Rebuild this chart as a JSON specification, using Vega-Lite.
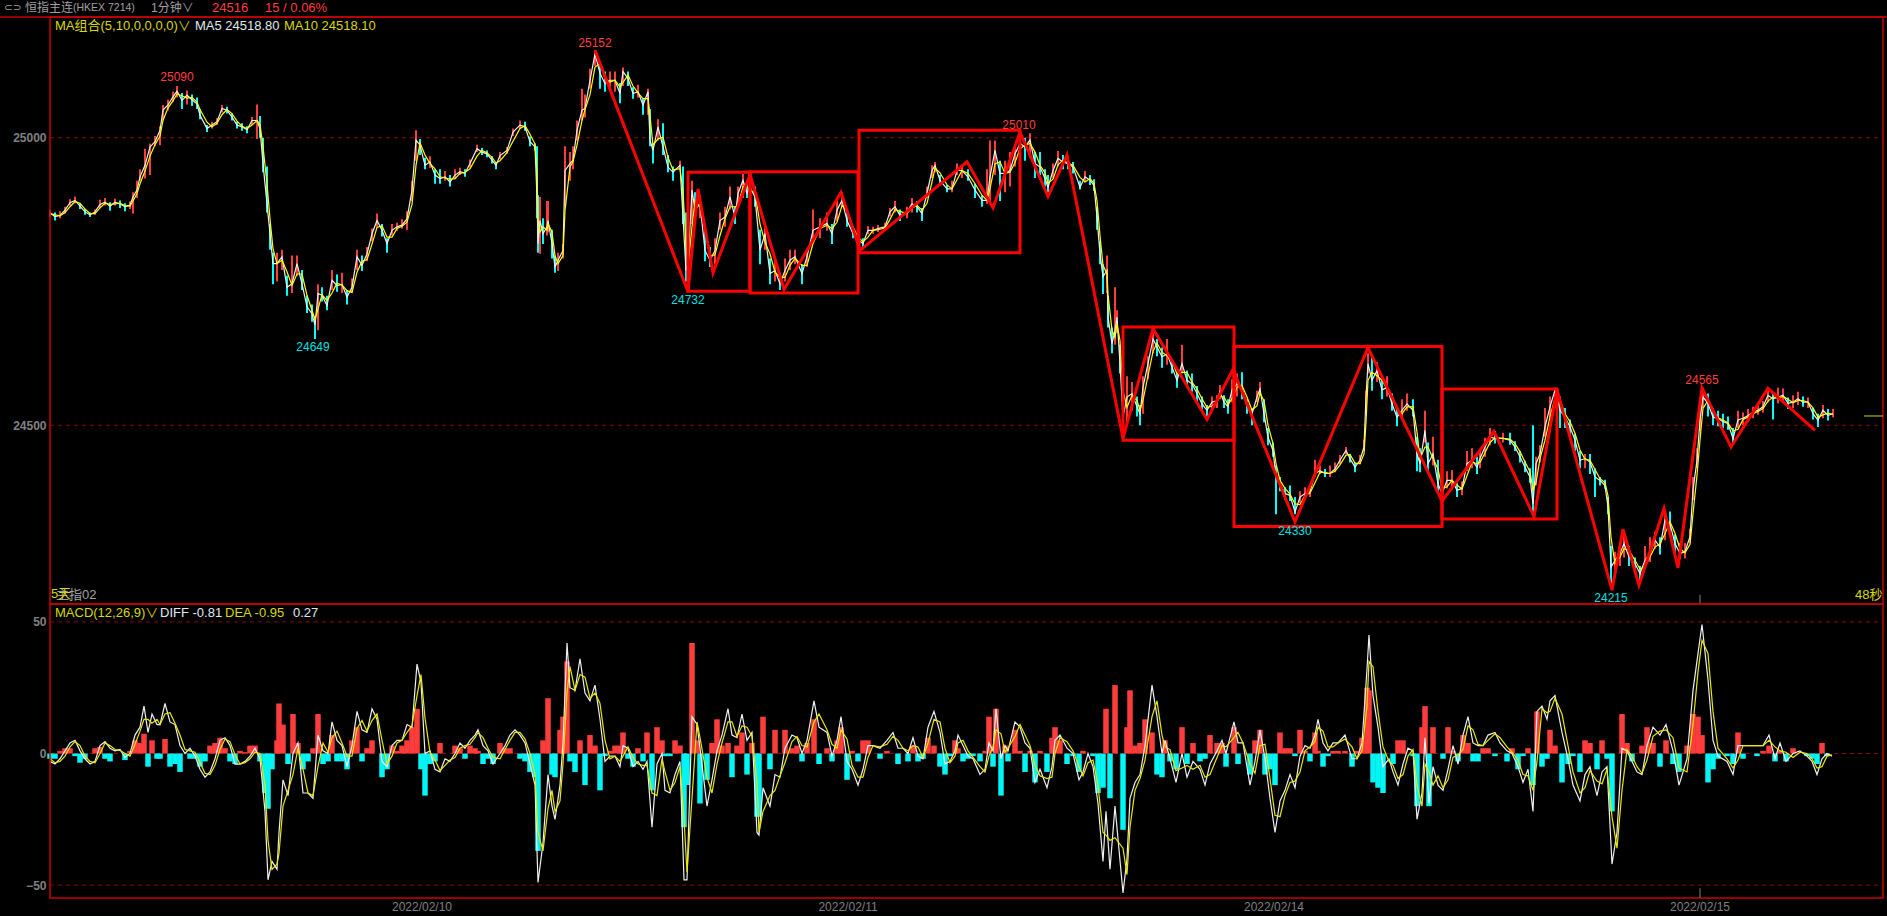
{"$schema":"https://vega.github.io/schema/vega-lite/v6.json","width":1887,"height":916,"padding":0,"autosize":{"type":"none"},"background":"#000000","config":{"view":{"stroke":null},"text":{"font":"Liberation Sans, Noto Sans CJK SC"}},
"datasets":{
"price":[
{"t":0,"low":24862,"high":24875,"ma5":24869,"ma10":24868},{"t":5,"low":24856,"high":24870,"ma5":24863,"ma10":24866},{"t":10,"low":24860,"high":24872,"ma5":24865,"ma10":24864},{"t":15,"low":24868,"high":24880,"ma5":24874,"ma10":24870},{"t":20,"low":24882,"high":24893,"ma5":24887,"ma10":24880},{"t":25,"low":24886,"high":24898,"ma5":24891,"ma10":24889},{"t":30,"low":24876,"high":24886,"ma5":24881,"ma10":24886},{"t":35,"low":24866,"high":24876,"ma5":24871,"ma10":24876},{"t":40,"low":24862,"high":24870,"ma5":24866,"ma10":24868},{"t":45,"low":24866,"high":24875,"ma5":24871,"ma10":24868},{"t":50,"low":24878,"high":24892,"ma5":24884,"ma10":24878},{"t":55,"low":24882,"high":24895,"ma5":24888,"ma10":24886},{"t":60,"low":24873,"high":24888,"ma5":24881,"ma10":24884},{"t":65,"low":24882,"high":24894,"ma5":24888,"ma10":24885},{"t":70,"low":24878,"high":24891,"ma5":24885,"ma10":24886},{"t":75,"low":24872,"high":24886,"ma5":24880,"ma10":24882},{"t":80,"low":24876,"high":24889,"ma5":24883,"ma10":24881},{"t":83,"low":24868,"high":24905,"ma5":24897,"ma10":24890},{"t":87,"low":24895,"high":24925,"ma5":24909,"ma10":24903},{"t":90,"low":24925,"high":24945,"ma5":24932,"ma10":24920},{"t":95,"low":24929,"high":24981,"ma5":24952,"ma10":24942},{"t":100,"low":24935,"high":24990,"ma5":24984,"ma10":24968},{"t":105,"low":24985,"high":25003,"ma5":24993,"ma10":24988},{"t":110,"low":24987,"high":25020,"ma5":25013,"ma10":25003},{"t":113,"low":25030,"high":25057,"ma5":25048,"ma10":25030},{"t":118,"low":25048,"high":25066,"ma5":25057,"ma10":25052},{"t":123,"low":25062,"high":25080,"ma5":25071,"ma10":25064},{"t":127,"low":25070,"high":25090,"ma5":25081,"ma10":25076},{"t":132,"low":25050,"high":25078,"ma5":25065,"ma10":25073},{"t":137,"low":25058,"high":25082,"ma5":25074,"ma10":25069},{"t":142,"low":25055,"high":25075,"ma5":25066,"ma10":25070},{"t":147,"low":25050,"high":25070,"ma5":25059,"ma10":25062},{"t":150,"low":25032,"high":25050,"ma5":25039,"ma10":25049},{"t":157,"low":25010,"high":25022,"ma5":25016,"ma10":25027},{"t":162,"low":25016,"high":25028,"ma5":25022,"ma10":25019},{"t":167,"low":25022,"high":25034,"ma5":25028,"ma10":25025},{"t":172,"low":25044,"high":25057,"ma5":25051,"ma10":25040},{"t":177,"low":25042,"high":25054,"ma5":25048,"ma10":25049},{"t":182,"low":25030,"high":25042,"ma5":25036,"ma10":25042},{"t":187,"low":25016,"high":25028,"ma5":25022,"ma10":25029},{"t":192,"low":25012,"high":25025,"ma5":25019,"ma10":25020},{"t":197,"low":25008,"high":25020,"ma5":25014,"ma10":25016},{"t":202,"low":25022,"high":25036,"ma5":25030,"ma10":25022},{"t":207,"low":24998,"high":25058,"ma5":25030,"ma10":25030},{"t":210,"low":25000,"high":25038,"ma5":25016,"ma10":25023},{"t":213,"low":24940,"high":25000,"ma5":24955,"ma10":24985},{"t":217,"low":24870,"high":24950,"ma5":24885,"ma10":24920},{"t":220,"low":24805,"high":24850,"ma5":24833,"ma10":24859},{"t":223,"low":24745,"high":24800,"ma5":24781,"ma10":24807},{"t":227,"low":24750,"high":24800,"ma5":24781,"ma10":24781},{"t":232,"low":24770,"high":24805,"ma5":24793,"ma10":24787},{"t":237,"low":24725,"high":24760,"ma5":24740,"ma10":24767},{"t":242,"low":24730,"high":24795,"ma5":24746,"ma10":24743},{"t":247,"low":24760,"high":24795,"ma5":24781,"ma10":24763},{"t":252,"low":24735,"high":24770,"ma5":24746,"ma10":24763},{"t":257,"low":24695,"high":24725,"ma5":24706,"ma10":24726},{"t":262,"low":24680,"high":24710,"ma5":24694,"ma10":24700},{"t":265,"low":24650,"high":24690,"ma5":24674,"ma10":24684},{"t":268,"low":24665,"high":24745,"ma5":24729,"ma10":24702},{"t":272,"low":24715,"high":24740,"ma5":24726,"ma10":24727},{"t":277,"low":24700,"high":24725,"ma5":24708,"ma10":24717},{"t":282,"low":24735,"high":24770,"ma5":24752,"ma10":24730},{"t":287,"low":24732,"high":24762,"ma5":24743,"ma10":24747},{"t":292,"low":24730,"high":24765,"ma5":24745,"ma10":24744},{"t":297,"low":24710,"high":24735,"ma5":24723,"ma10":24734},{"t":302,"low":24730,"high":24755,"ma5":24740,"ma10":24731},{"t":307,"low":24770,"high":24805,"ma5":24793,"ma10":24766},{"t":312,"low":24768,"high":24795,"ma5":24778,"ma10":24785},{"t":317,"low":24785,"high":24810,"ma5":24798,"ma10":24788},{"t":322,"low":24820,"high":24842,"ma5":24833,"ma10":24815},{"t":327,"low":24845,"high":24868,"ma5":24856,"ma10":24844},{"t":332,"low":24828,"high":24850,"ma5":24839,"ma10":24847},{"t":337,"low":24800,"high":24825,"ma5":24816,"ma10":24827},{"t":342,"low":24830,"high":24850,"ma5":24839,"ma10":24827},{"t":347,"low":24838,"high":24852,"ma5":24845,"ma10":24842},{"t":352,"low":24842,"high":24858,"ma5":24848,"ma10":24846},{"t":357,"low":24840,"high":24872,"ma5":24859,"ma10":24853},{"t":362,"low":24890,"high":24925,"ma5":24909,"ma10":24884},{"t":366,"low":24960,"high":25013,"ma5":24996,"ma10":24952},{"t":370,"low":24970,"high":24998,"ma5":24987,"ma10":24991},{"t":375,"low":24945,"high":24965,"ma5":24952,"ma10":24970},{"t":380,"low":24948,"high":24968,"ma5":24958,"ma10":24955},{"t":385,"low":24920,"high":24945,"ma5":24935,"ma10":24946},{"t":390,"low":24920,"high":24945,"ma5":24929,"ma10":24932},{"t":395,"low":24925,"high":24942,"ma5":24932,"ma10":24930},{"t":400,"low":24915,"high":24935,"ma5":24923,"ma10":24928},{"t":405,"low":24928,"high":24945,"ma5":24935,"ma10":24929},{"t":410,"low":24935,"high":24948,"ma5":24941,"ma10":24938},{"t":415,"low":24932,"high":24945,"ma5":24938,"ma10":24940},{"t":420,"low":24948,"high":24962,"ma5":24955,"ma10":24946},{"t":427,"low":24975,"high":24988,"ma5":24981,"ma10":24968},{"t":432,"low":24970,"high":24982,"ma5":24975,"ma10":24978},{"t":437,"low":24966,"high":24978,"ma5":24972,"ma10":24974},{"t":442,"low":24955,"high":24968,"ma5":24961,"ma10":24966},{"t":446,"low":24945,"high":24958,"ma5":24952,"ma10":24956},{"t":450,"low":24963,"high":24975,"ma5":24969,"ma10":24960},{"t":457,"low":24972,"high":24984,"ma5":24978,"ma10":24974},{"t":463,"low":25003,"high":25016,"ma5":25010,"ma10":24994},{"t":470,"low":25015,"high":25030,"ma5":25022,"ma10":25016},{"t":475,"low":25012,"high":25028,"ma5":25019,"ma10":25021},
{"t":480,"low":24985,"high":25002,"ma5":24993,"ma10":25006},{"t":485,"low":24978,"high":24990,"ma5":24984,"ma10":24989},{"t":487,"low":24860,"high":24985,"ma5":24897,"ma10":24940},{"t":488,"low":24800,"high":24900,"ma5":24816,"ma10":24856},{"t":490,"low":24798,"high":24897,"ma5":24856,"ma10":24836},{"t":493,"low":24815,"high":24860,"ma5":24833,"ma10":24845},{"t":497,"low":24830,"high":24890,"ma5":24845,"ma10":24839},{"t":498,"low":24835,"high":24890,"ma5":24856,"ma10":24850},{"t":502,"low":24790,"high":24840,"ma5":24816,"ma10":24836},{"t":505,"low":24765,"high":24795,"ma5":24775,"ma10":24795},{"t":508,"low":24768,"high":24800,"ma5":24787,"ma10":24781},{"t":513,"low":24790,"high":24815,"ma5":24804,"ma10":24795},{"t":515,"low":24880,"high":24985,"ma5":24943,"ma10":24873},{"t":520,"low":24925,"high":24975,"ma5":24955,"ma10":24949},{"t":523,"low":24945,"high":24985,"ma5":24961,"ma10":24958},{"t":527,"low":24995,"high":25030,"ma5":25013,"ma10":24987},{"t":532,"low":25030,"high":25085,"ma5":25048,"ma10":25030},{"t":535,"low":25035,"high":25075,"ma5":25051,"ma10":25049},{"t":540,"low":25085,"high":25120,"ma5":25100,"ma10":25075},{"t":545,"low":25125,"high":25152,"ma5":25146,"ma10":25123},{"t":550,"low":25085,"high":25130,"ma5":25112,"ma10":25129},{"t":555,"low":25080,"high":25115,"ma5":25094,"ma10":25103},{"t":560,"low":25085,"high":25115,"ma5":25100,"ma10":25097},{"t":565,"low":25080,"high":25115,"ma5":25100,"ma10":25100},{"t":570,"low":25060,"high":25095,"ma5":25077,"ma10":25088},{"t":573,"low":25090,"high":25122,"ma5":25115,"ma10":25096},{"t":578,"low":25090,"high":25115,"ma5":25103,"ma10":25109},{"t":583,"low":25068,"high":25088,"ma5":25077,"ma10":25090},{"t":588,"low":25070,"high":25092,"ma5":25080,"ma10":25078},{"t":593,"low":25040,"high":25068,"ma5":25057,"ma10":25068},{"t":598,"low":25040,"high":25085,"ma5":25080,"ma10":25068},{"t":600,"low":24985,"high":25050,"ma5":24996,"ma10":25038},{"t":603,"low":24955,"high":24990,"ma5":24978,"ma10":24987},{"t":608,"low":24995,"high":25032,"ma5":25019,"ma10":24998},{"t":613,"low":24970,"high":25025,"ma5":24984,"ma10":25001},{"t":618,"low":24940,"high":24970,"ma5":24949,"ma10":24966},{"t":623,"low":24925,"high":24950,"ma5":24940,"ma10":24944},{"t":630,"low":24945,"high":24960,"ma5":24952,"ma10":24946},{"t":633,"low":24850,"high":24950,"ma5":24862,"ma10":24907},{"t":636,"low":24750,"high":24870,"ma5":24769,"ma10":24815},{"t":638,"low":24735,"high":24810,"ma5":24781,"ma10":24775},{"t":642,"low":24850,"high":24925,"ma5":24909,"ma10":24845},{"t":645,"low":24860,"high":24905,"ma5":24874,"ma10":24891},{"t":650,"low":24860,"high":24900,"ma5":24885,"ma10":24880},{"t":655,"low":24785,"high":24840,"ma5":24804,"ma10":24844},{"t":660,"low":24775,"high":24810,"ma5":24787,"ma10":24795},{"t":665,"low":24780,"high":24825,"ma5":24804,"ma10":24796},{"t":670,"low":24840,"high":24870,"ma5":24856,"ma10":24830},{"t":675,"low":24845,"high":24880,"ma5":24862,"ma10":24859},{"t":680,"low":24875,"high":24915,"ma5":24897,"ma10":24880},{"t":685,"low":24850,"high":24880,"ma5":24862,"ma10":24880},{"t":688,"low":24885,"high":24915,"ma5":24903,"ma10":24882},{"t":693,"low":24895,"high":24937,"ma5":24926,"ma10":24915},{"t":697,"low":24895,"high":24925,"ma5":24903,"ma10":24915},{"t":700,"low":24895,"high":24935,"ma5":24914,"ma10":24908},{"t":705,"low":24880,"high":24915,"ma5":24897,"ma10":24905},{"t":710,"low":24780,"high":24840,"ma5":24804,"ma10":24850},{"t":715,"low":24805,"high":24850,"ma5":24833,"ma10":24818},{"t":720,"low":24745,"high":24790,"ma5":24764,"ma10":24798},{"t":725,"low":24750,"high":24790,"ma5":24769,"ma10":24766},{"t":730,"low":24735,"high":24765,"ma5":24746,"ma10":24757},{"t":735,"low":24750,"high":24790,"ma5":24769,"ma10":24757},{"t":740,"low":24770,"high":24805,"ma5":24787,"ma10":24778},{"t":745,"low":24780,"high":24805,"ma5":24793,"ma10":24790},{"t":752,"low":24745,"high":24780,"ma5":24764,"ma10":24778},{"t":757,"low":24775,"high":24805,"ma5":24793,"ma10":24778},{"t":763,"low":24825,"high":24875,"ma5":24839,"ma10":24816},{"t":770,"low":24825,"high":24860,"ma5":24845,"ma10":24842},{"t":777,"low":24838,"high":24870,"ma5":24851,"ma10":24848},{"t":782,"low":24815,"high":24850,"ma5":24833,"ma10":24842},{"t":787,"low":24855,"high":24890,"ma5":24874,"ma10":24853},{"t":792,"low":24880,"high":24905,"ma5":24891,"ma10":24882},{"t":797,"low":24845,"high":24870,"ma5":24856,"ma10":24873},{"t":803,"low":24825,"high":24845,"ma5":24833,"ma10":24845},{"t":808,"low":24808,"high":24835,"ma5":24822,"ma10":24827},{"t":813,"low":24808,"high":24825,"ma5":24816,"ma10":24819},{"t":818,"low":24832,"high":24846,"ma5":24839,"ma10":24827},{"t":823,"low":24833,"high":24845,"ma5":24839,"ma10":24839},{"t":828,"low":24836,"high":24848,"ma5":24842,"ma10":24840},{"t":835,"low":24838,"high":24852,"ma5":24845,"ma10":24843},{"t":840,"low":24863,"high":24878,"ma5":24871,"ma10":24858},{"t":845,"low":24870,"high":24890,"ma5":24880,"ma10":24875},{"t":850,"low":24855,"high":24875,"ma5":24865,"ma10":24872},{"t":857,"low":24860,"high":24880,"ma5":24871,"ma10":24868},{"t":862,"low":24870,"high":24895,"ma5":24885,"ma10":24878},{"t":867,"low":24870,"high":24890,"ma5":24880,"ma10":24882},{"t":872,"low":24855,"high":24878,"ma5":24868,"ma10":24874},{"t":877,"low":24895,"high":24915,"ma5":24903,"ma10":24886},{"t":882,"low":24930,"high":24952,"ma5":24943,"ma10":24923},{"t":885,"low":24940,"high":24958,"ma5":24952,"ma10":24947},{"t":890,"low":24918,"high":24935,"ma5":24926,"ma10":24939},{"t":897,"low":24905,"high":24918,"ma5":24911,"ma10":24918},{"t":902,"low":24905,"high":24925,"ma5":24911,"ma10":24911},{"t":907,"low":24935,"high":24955,"ma5":24943,"ma10":24927},{"t":912,"low":24930,"high":24952,"ma5":24943,"ma10":24943},{"t":918,"low":24925,"high":24945,"ma5":24932,"ma10":24938},{"t":925,"low":24895,"high":24920,"ma5":24909,"ma10":24920},{"t":932,"low":24880,"high":24900,"ma5":24891,"ma10":24900},{"t":937,"low":24885,"high":24945,"ma5":24891,"ma10":24891},{"t":940,"low":24885,"high":24995,"ma5":24932,"ma10":24911},{"t":945,"low":24935,"high":24995,"ma5":24978,"ma10":24955},
{"t":950,"low":24890,"high":24960,"ma5":24938,"ma10":24958},{"t":955,"low":24905,"high":24960,"ma5":24938,"ma10":24938},{"t":960,"low":24915,"high":24975,"ma5":24943,"ma10":24940},{"t":965,"low":24950,"high":24985,"ma5":24972,"ma10":24957},{"t":970,"low":24960,"high":25005,"ma5":24990,"ma10":24981},{"t":975,"low":24960,"high":25000,"ma5":24984,"ma10":24987},{"t":980,"low":24965,"high":25008,"ma5":24996,"ma10":24990},{"t":985,"low":24930,"high":24975,"ma5":24955,"ma10":24975},{"t":990,"low":24935,"high":24975,"ma5":24949,"ma10":24952},{"t":995,"low":24915,"high":24945,"ma5":24929,"ma10":24939},{"t":998,"low":24905,"high":24935,"ma5":24914,"ma10":24921},{"t":1003,"low":24930,"high":24955,"ma5":24943,"ma10":24928},{"t":1008,"low":24950,"high":24977,"ma5":24964,"ma10":24953},{"t":1013,"low":24945,"high":24970,"ma5":24958,"ma10":24961},{"t":1018,"low":24945,"high":24965,"ma5":24955,"ma10":24956},{"t":1023,"low":24938,"high":24958,"ma5":24949,"ma10":24952},{"t":1030,"low":24910,"high":24925,"ma5":24914,"ma10":24931},{"t":1035,"low":24922,"high":24942,"ma5":24932,"ma10":24923},{"t":1040,"low":24918,"high":24935,"ma5":24926,"ma10":24929},{"t":1044,"low":24908,"high":24928,"ma5":24917,"ma10":24921},{"t":1047,"low":24840,"high":24880,"ma5":24862,"ma10":24890},{"t":1050,"low":24780,"high":24820,"ma5":24798,"ma10":24830},{"t":1053,"low":24728,"high":24780,"ma5":24758,"ma10":24778},{"t":1057,"low":24730,"high":24795,"ma5":24769,"ma10":24763},{"t":1058,"low":24670,"high":24725,"ma5":24688,"ma10":24728},{"t":1062,"low":24625,"high":24670,"ma5":24642,"ma10":24665},{"t":1065,"low":24640,"high":24740,"ma5":24665,"ma10":24653},{"t":1067,"low":24660,"high":24700,"ma5":24688,"ma10":24676},{"t":1070,"low":24590,"high":24640,"ma5":24607,"ma10":24647},{"t":1073,"low":24500,"high":24560,"ma5":24514,"ma10":24560},{"t":1077,"low":24505,"high":24585,"ma5":24549,"ma10":24531},{"t":1082,"low":24525,"high":24575,"ma5":24555,"ma10":24552},{"t":1087,"low":24515,"high":24550,"ma5":24532,"ma10":24543},{"t":1090,"low":24500,"high":24535,"ma5":24520,"ma10":24526},{"t":1093,"low":24520,"high":24585,"ma5":24566,"ma10":24543},{"t":1098,"low":24580,"high":24620,"ma5":24607,"ma10":24586},{"t":1103,"low":24625,"high":24660,"ma5":24650,"ma10":24628},{"t":1107,"low":24620,"high":24650,"ma5":24636,"ma10":24643},{"t":1112,"low":24600,"high":24635,"ma5":24619,"ma10":24627},{"t":1117,"low":24605,"high":24650,"ma5":24624,"ma10":24621},{"t":1122,"low":24590,"high":24615,"ma5":24601,"ma10":24612},{"t":1127,"low":24565,"high":24590,"ma5":24578,"ma10":24589},{"t":1132,"low":24590,"high":24640,"ma5":24607,"ma10":24592},{"t":1137,"low":24565,"high":24595,"ma5":24578,"ma10":24592},{"t":1142,"low":24558,"high":24590,"ma5":24572,"ma10":24575},{"t":1147,"low":24540,"high":24568,"ma5":24555,"ma10":24563},{"t":1152,"low":24525,"high":24550,"ma5":24537,"ma10":24546},{"t":1157,"low":24512,"high":24535,"ma5":24526,"ma10":24531},{"t":1162,"low":24525,"high":24550,"ma5":24540,"ma10":24533},{"t":1167,"low":24530,"high":24552,"ma5":24543,"ma10":24541},{"t":1170,"low":24545,"high":24570,"ma5":24558,"ma10":24550},{"t":1174,"low":24530,"high":24552,"ma5":24540,"ma10":24549},{"t":1178,"low":24520,"high":24545,"ma5":24532,"ma10":24536},{"t":1182,"low":24540,"high":24580,"ma5":24561,"ma10":24546},{"t":1187,"low":24550,"high":24590,"ma5":24572,"ma10":24566},{"t":1192,"low":24545,"high":24592,"ma5":24566,"ma10":24569},{"t":1197,"low":24520,"high":24545,"ma5":24532,"ma10":24549},{"t":1202,"low":24500,"high":24530,"ma5":24520,"ma10":24526},{"t":1207,"low":24540,"high":24560,"ma5":24549,"ma10":24534},{"t":1210,"low":24552,"high":24575,"ma5":24563,"ma10":24556},{"t":1214,"low":24505,"high":24545,"ma5":24520,"ma10":24542},{"t":1218,"low":24465,"high":24495,"ma5":24479,"ma10":24500},{"t":1223,"low":24445,"high":24470,"ma5":24456,"ma10":24468},{"t":1226,"low":24345,"high":24430,"ma5":24410,"ma10":24433},{"t":1230,"low":24385,"high":24410,"ma5":24398,"ma10":24404},{"t":1235,"low":24370,"high":24392,"ma5":24381,"ma10":24390},{"t":1240,"low":24368,"high":24395,"ma5":24378,"ma10":24380},{"t":1245,"low":24345,"high":24375,"ma5":24349,"ma10":24363},{"t":1250,"low":24365,"high":24385,"ma5":24375,"ma10":24362},{"t":1255,"low":24372,"high":24392,"ma5":24381,"ma10":24378},{"t":1260,"low":24375,"high":24395,"ma5":24384,"ma10":24382},{"t":1265,"low":24410,"high":24440,"ma5":24416,"ma10":24400},{"t":1270,"low":24415,"high":24430,"ma5":24421,"ma10":24418},{"t":1275,"low":24410,"high":24424,"ma5":24416,"ma10":24418},{"t":1280,"low":24410,"high":24430,"ma5":24416,"ma10":24416},{"t":1285,"low":24418,"high":24435,"ma5":24424,"ma10":24420},{"t":1290,"low":24432,"high":24448,"ma5":24439,"ma10":24431},{"t":1296,"low":24450,"high":24462,"ma5":24456,"ma10":24448},{"t":1300,"low":24435,"high":24450,"ma5":24442,"ma10":24449},{"t":1305,"low":24418,"high":24435,"ma5":24427,"ma10":24434},{"t":1310,"low":24432,"high":24448,"ma5":24439,"ma10":24433},{"t":1314,"low":24455,"high":24475,"ma5":24462,"ma10":24450},{"t":1316,"low":24530,"high":24560,"ma5":24549,"ma10":24505},{"t":1318,"low":24590,"high":24625,"ma5":24607,"ma10":24578},{"t":1322,"low":24560,"high":24620,"ma5":24578,"ma10":24592},{"t":1327,"low":24575,"high":24610,"ma5":24595,"ma10":24586},{"t":1332,"low":24545,"high":24580,"ma5":24561,"ma10":24578},{"t":1337,"low":24550,"high":24585,"ma5":24566,"ma10":24563},{"t":1342,"low":24525,"high":24555,"ma5":24537,"ma10":24552},{"t":1347,"low":24498,"high":24530,"ma5":24514,"ma10":24526},{"t":1352,"low":24510,"high":24545,"ma5":24526,"ma10":24520},{"t":1357,"low":24525,"high":24555,"ma5":24537,"ma10":24532},{"t":1363,"low":24515,"high":24545,"ma5":24526,"ma10":24532},{"t":1367,"low":24420,"high":24480,"ma5":24450,"ma10":24488},{"t":1370,"low":24418,"high":24460,"ma5":24433,"ma10":24442},{"t":1375,"low":24470,"high":24525,"ma5":24491,"ma10":24462},{"t":1378,"low":24420,"high":24470,"ma5":24433,"ma10":24462},{"t":1383,"low":24430,"high":24480,"ma5":24450,"ma10":24442},{"t":1388,"low":24385,"high":24440,"ma5":24398,"ma10":24424},{"t":1392,"low":24370,"high":24400,"ma5":24381,"ma10":24390},{"t":1397,"low":24390,"high":24420,"ma5":24404,"ma10":24393},{"t":1402,"low":24388,"high":24422,"ma5":24404,"ma10":24404},{"t":1407,"low":24375,"high":24400,"ma5":24387,"ma10":24396},{"t":1412,"low":24378,"high":24402,"ma5":24390,"ma10":24389},{"t":1417,"low":24420,"high":24455,"ma5":24433,"ma10":24412},{"t":1422,"low":24425,"high":24460,"ma5":24439,"ma10":24436},{"t":1427,"low":24415,"high":24445,"ma5":24427,"ma10":24433},
{"t":1430,"low":24425,"high":24458,"ma5":24442,"ma10":24435},{"t":1435,"low":24445,"high":24478,"ma5":24462,"ma10":24452},{"t":1440,"low":24465,"high":24495,"ma5":24479,"ma10":24470},{"t":1445,"low":24468,"high":24490,"ma5":24477,"ma10":24478},{"t":1453,"low":24470,"high":24487,"ma5":24477,"ma10":24477},{"t":1460,"low":24466,"high":24487,"ma5":24474,"ma10":24476},{"t":1465,"low":24455,"high":24472,"ma5":24462,"ma10":24468},{"t":1470,"low":24435,"high":24455,"ma5":24445,"ma10":24454},{"t":1475,"low":24418,"high":24438,"ma5":24427,"ma10":24436},{"t":1480,"low":24400,"high":24425,"ma5":24410,"ma10":24419},{"t":1483,"low":24345,"high":24500,"ma5":24363,"ma10":24388},{"t":1486,"low":24395,"high":24445,"ma5":24433,"ma10":24400},{"t":1490,"low":24435,"high":24465,"ma5":24450,"ma10":24442},{"t":1495,"low":24480,"high":24530,"ma5":24497,"ma10":24474},{"t":1500,"low":24510,"high":24550,"ma5":24532,"ma10":24515},{"t":1505,"low":24530,"high":24565,"ma5":24561,"ma10":24547},{"t":1510,"low":24495,"high":24550,"ma5":24526,"ma10":24544},{"t":1515,"low":24495,"high":24530,"ma5":24514,"ma10":24520},{"t":1520,"low":24480,"high":24510,"ma5":24497,"ma10":24506},{"t":1525,"low":24455,"high":24485,"ma5":24474,"ma10":24486},{"t":1530,"low":24425,"high":24455,"ma5":24439,"ma10":24457},{"t":1535,"low":24425,"high":24450,"ma5":24442,"ma10":24441},{"t":1540,"low":24415,"high":24450,"ma5":24436,"ma10":24439},{"t":1545,"low":24375,"high":24425,"ma5":24410,"ma10":24423},{"t":1550,"low":24395,"high":24410,"ma5":24404,"ma10":24407},{"t":1555,"low":24390,"high":24405,"ma5":24395,"ma10":24400},{"t":1558,"low":24345,"high":24375,"ma5":24358,"ma10":24377},{"t":1561,"low":24219,"high":24290,"ma5":24253,"ma10":24305},{"t":1565,"low":24235,"high":24280,"ma5":24265,"ma10":24259},{"t":1570,"low":24255,"high":24295,"ma5":24277,"ma10":24271},{"t":1574,"low":24270,"high":24310,"ma5":24294,"ma10":24285},{"t":1579,"low":24255,"high":24290,"ma5":24271,"ma10":24282},{"t":1585,"low":24245,"high":24270,"ma5":24259,"ma10":24265},{"t":1590,"low":24230,"high":24255,"ma5":24242,"ma10":24250},{"t":1595,"low":24255,"high":24290,"ma5":24265,"ma10":24254},{"t":1600,"low":24262,"high":24305,"ma5":24277,"ma10":24271},{"t":1605,"low":24285,"high":24315,"ma5":24300,"ma10":24288},{"t":1610,"low":24275,"high":24305,"ma5":24288,"ma10":24294},{"t":1615,"low":24300,"high":24350,"ma5":24335,"ma10":24311},{"t":1620,"low":24310,"high":24350,"ma5":24329,"ma10":24332},{"t":1625,"low":24280,"high":24310,"ma5":24294,"ma10":24312},{"t":1630,"low":24268,"high":24295,"ma5":24277,"ma10":24285},{"t":1635,"low":24268,"high":24295,"ma5":24280,"ma10":24278},{"t":1640,"low":24295,"high":24320,"ma5":24306,"ma10":24293},{"t":1643,"low":24370,"high":24410,"ma5":24387,"ma10":24346},{"t":1647,"low":24425,"high":24460,"ma5":24439,"ma10":24413},{"t":1650,"low":24490,"high":24530,"ma5":24509,"ma10":24474},{"t":1653,"low":24530,"high":24565,"ma5":24549,"ma10":24529},{"t":1658,"low":24515,"high":24555,"ma5":24538,"ma10":24543},{"t":1663,"low":24500,"high":24530,"ma5":24514,"ma10":24526},{"t":1668,"low":24498,"high":24525,"ma5":24512,"ma10":24513},{"t":1673,"low":24495,"high":24520,"ma5":24506,"ma10":24509},{"t":1678,"low":24492,"high":24515,"ma5":24503,"ma10":24504},{"t":1683,"low":24470,"high":24495,"ma5":24477,"ma10":24490},{"t":1688,"low":24495,"high":24525,"ma5":24509,"ma10":24493},{"t":1693,"low":24500,"high":24522,"ma5":24512,"ma10":24510},{"t":1698,"low":24505,"high":24528,"ma5":24517,"ma10":24514},{"t":1703,"low":24512,"high":24532,"ma5":24523,"ma10":24520},{"t":1708,"low":24518,"high":24535,"ma5":24526,"ma10":24524},{"t":1713,"low":24522,"high":24542,"ma5":24532,"ma10":24529},{"t":1718,"low":24540,"high":24560,"ma5":24552,"ma10":24542},{"t":1723,"low":24510,"high":24555,"ma5":24546,"ma10":24549},{"t":1728,"low":24538,"high":24565,"ma5":24549,"ma10":24547},{"t":1733,"low":24540,"high":24564,"ma5":24552,"ma10":24550},{"t":1738,"low":24528,"high":24548,"ma5":24538,"ma10":24545},{"t":1743,"low":24530,"high":24552,"ma5":24540,"ma10":24539},{"t":1748,"low":24535,"high":24558,"ma5":24546,"ma10":24543},{"t":1753,"low":24532,"high":24550,"ma5":24540,"ma10":24543},{"t":1758,"low":24530,"high":24548,"ma5":24540,"ma10":24540},{"t":1763,"low":24510,"high":24530,"ma5":24520,"ma10":24530},{"t":1768,"low":24497,"high":24520,"ma5":24509,"ma10":24514},{"t":1773,"low":24512,"high":24535,"ma5":24526,"ma10":24518},{"t":1778,"low":24508,"high":24528,"ma5":24517,"ma10":24521},{"t":1783,"low":24514,"high":24528,"ma5":24520,"ma10":24519}],
"macd":[
{"t":0,"diff":-3,"dea":-2,"hist":-2},{"t":5,"diff":-4,"dea":-3.5,"hist":-2},{"t":10,"diff":-2,"dea":-3,"hist":1},{"t":15,"diff":1,"dea":-1,"hist":2},{"t":20,"diff":4,"dea":2.5,"hist":2},{"t":25,"diff":5,"dea":4.5,"hist":-1},{"t":30,"diff":1,"dea":3,"hist":-3.5},{"t":35,"diff":-2,"dea":-1,"hist":-2},{"t":40,"diff":-4,"dea":-3,"hist":0},{"t":45,"diff":-3,"dea":-3.5,"hist":2},{"t":50,"diff":3,"dea":0,"hist":2.5},{"t":55,"diff":4.5,"dea":4,"hist":-2},{"t":60,"diff":2,"dea":3,"hist":-3},{"t":65,"diff":1,"dea":1.5,"hist":0},{"t":70,"diff":1.5,"dea":1.2,"hist":0},{"t":75,"diff":-1.5,"dea":0,"hist":-2.5},{"t":80,"diff":0,"dea":-1,"hist":1},{"t":85,"diff":7,"dea":3.5,"hist":5},{"t":90,"diff":10,"dea":8.5,"hist":4},{"t":94,"diff":18,"dea":13,"hist":7.5},{"t":98,"diff":8,"dea":13,"hist":-5},{"t":102,"diff":15,"dea":11.5,"hist":5},{"t":107,"diff":11,"dea":13,"hist":-2},{"t":110,"diff":11,"dea":11,"hist":-2},{"t":115,"diff":19,"dea":15,"hist":5.5},{"t":120,"diff":12,"dea":15.5,"hist":-5},{"t":125,"diff":11,"dea":11.5,"hist":-4},{"t":130,"diff":3,"dea":7,"hist":-7},{"t":135,"diff":0,"dea":1.5,"hist":0},{"t":140,"diff":2,"dea":1,"hist":-2},{"t":145,"diff":-1,"dea":0.5,"hist":-2},{"t":150,"diff":-6,"dea":-3.5,"hist":-5},{"t":155,"diff":-9,"dea":-7.5,"hist":-3},{"t":160,"diff":-7,"dea":-8,"hist":3},{"t":165,"diff":-2,"dea":-4.5,"hist":4},{"t":170,"diff":5,"dea":1.5,"hist":6},{"t":175,"diff":6,"dea":5.5,"hist":2},{"t":180,"diff":3,"dea":4.5,"hist":-3},{"t":185,"diff":-4,"dea":-0.5,"hist":-4},{"t":190,"diff":-4,"dea":-4,"hist":1},{"t":195,"diff":-3,"dea":-3.5,"hist":0.5},{"t":200,"diff":-1,"dea":-2,"hist":3},{"t":205,"diff":2,"dea":0.5,"hist":3},{"t":210,"diff":-2,"dea":0,"hist":-3},{"t":215,"diff":-22,"dea":-12,"hist":-15},{"t":218,"diff":-48,"dea":-33,"hist":-21},{"t":222,"diff":-41,"dea":-44,"hist":-6},{"t":227,"diff":-44,"dea":-42,"hist":5},{"t":229,"diff":-30,"dea":-38,"hist":19},{"t":233,"diff":-10,"dea":-20,"hist":11},{"t":238,"diff":-16,"dea":-14,"hist":-4},{"t":243,"diff":0,"dea":-8,"hist":15},{"t":248,"diff":4,"dea":2,"hist":4},{"t":253,"diff":-15,"dea":-6,"hist":-6},{"t":258,"diff":-15,"dea":-15,"hist":-3},{"t":263,"diff":-17,"dea":-16,"hist":2},{"t":268,"diff":7,"dea":-5,"hist":15},{"t":273,"diff":1,"dea":4,"hist":-4},{"t":278,"diff":0,"dea":0.5,"hist":-3},{"t":282,"diff":12,"dea":6,"hist":7},{"t":287,"diff":5,"dea":8.5,"hist":-3},{"t":292,"diff":3,"dea":4,"hist":-3},{"t":297,"diff":-5,"dea":-1,"hist":-6},{"t":302,"diff":3,"dea":-1,"hist":5},{"t":307,"diff":16,"dea":9.5,"hist":10},{"t":312,"diff":9,"dea":12.5,"hist":-3},{"t":317,"diff":8,"dea":8.5,"hist":2},{"t":322,"diff":17,"dea":12.5,"hist":5},{"t":327,"diff":13,"dea":15,"hist":0},{"t":332,"diff":-3,"dea":5,"hist":-9},{"t":337,"diff":-5,"dea":-4,"hist":-6},{"t":342,"diff":3,"dea":-1,"hist":3},{"t":347,"diff":5,"dea":4,"hist":1},{"t":352,"diff":5,"dea":5,"hist":3},{"t":357,"diff":11,"dea":8,"hist":5},{"t":362,"diff":10,"dea":10.5,"hist":10},{"t":367,"diff":34,"dea":22,"hist":17},{"t":371,"diff":27,"dea":30,"hist":-6},{"t":375,"diff":0,"dea":13.5,"hist":-16},{"t":380,"diff":1,"dea":0.5,"hist":-4},{"t":385,"diff":-6,"dea":-2.5,"hist":-3},{"t":390,"diff":-7,"dea":-6.5,"hist":4},{"t":395,"diff":-2,"dea":-4.5,"hist":0},{"t":400,"diff":-3,"dea":-2.5,"hist":0},{"t":405,"diff":0,"dea":-1.5,"hist":3},{"t":410,"diff":4,"dea":2,"hist":2},{"t":415,"diff":2,"dea":3,"hist":-2},{"t":420,"diff":5,"dea":3.5,"hist":3},{"t":425,"diff":7,"dea":6,"hist":2},{"t":428,"diff":9,"dea":8,"hist":1},{"t":433,"diff":3,"dea":6,"hist":-4},{"t":438,"diff":1,"dea":2,"hist":-2},{"t":443,"diff":-4,"dea":-1.5,"hist":-4},{"t":450,"diff":0,"dea":-2,"hist":4},
{"t":455,"diff":3,"dea":1.5,"hist":2},{"t":460,"diff":7,"dea":5,"hist":2},{"t":465,"diff":9,"dea":8,"hist":0},{"t":470,"diff":7,"dea":8,"hist":-2},{"t":475,"diff":4,"dea":5.5,"hist":-3},{"t":480,"diff":-4,"dea":0,"hist":-7},{"t":485,"diff":-12,"dea":-8,"hist":-9},{"t":488,"diff":-49,"dea":-30,"hist":-37},{"t":493,"diff":-34,"dea":-37,"hist":5},{"t":498,"diff":-8,"dea":-21,"hist":21},{"t":502,"diff":-20,"dea":-14,"hist":-8},{"t":505,"diff":-25,"dea":-22,"hist":-9},{"t":510,"diff":-12,"dea":-18,"hist":9},{"t":513,"diff":4,"dea":-4,"hist":14},{"t":517,"diff":42,"dea":23,"hist":35},{"t":520,"diff":25,"dea":33,"hist":-3},{"t":525,"diff":24,"dea":24,"hist":-7},{"t":530,"diff":36,"dea":30,"hist":5},{"t":535,"diff":23,"dea":29,"hist":-12},{"t":540,"diff":20,"dea":21,"hist":7},{"t":545,"diff":26,"dea":23,"hist":3},{"t":550,"diff":13,"dea":19,"hist":-14},{"t":555,"diff":-3,"dea":5,"hist":-1},{"t":560,"diff":-1,"dea":-2,"hist":1},{"t":565,"diff":-1,"dea":-1,"hist":3},{"t":570,"diff":-5,"dea":-3,"hist":3},{"t":573,"diff":3,"dea":-1,"hist":8},{"t":578,"diff":2,"dea":2.5,"hist":-2},{"t":583,"diff":-5,"dea":-1.5,"hist":-5},{"t":588,"diff":-3,"dea":-4,"hist":2},{"t":593,"diff":-6,"dea":-4.5,"hist":-3},{"t":597,"diff":-3,"dea":-4.5,"hist":8},{"t":602,"diff":-28,"dea":-15,"hist":-14},{"t":607,"diff":-4,"dea":-16,"hist":10},{"t":612,"diff":0,"dea":-2,"hist":5},{"t":615,"diff":-14,"dea":-7,"hist":-1},{"t":620,"diff":-15,"dea":-14,"hist":-1},{"t":625,"diff":-8,"dea":-11,"hist":5},{"t":630,"diff":-3,"dea":-5,"hist":3},{"t":634,"diff":-48,"dea":-25,"hist":-28},{"t":637,"diff":-48,"dea":-45,"hist":-12},{"t":642,"diff":14,"dea":-17,"hist":42},{"t":647,"diff":11,"dea":12,"hist":5},{"t":650,"diff":2,"dea":6,"hist":-19},{"t":657,"diff":-20,"dea":-9,"hist":-10},{"t":662,"diff":-10,"dea":-15,"hist":4},{"t":667,"diff":1,"dea":-4,"hist":13},{"t":672,"diff":7,"dea":4,"hist":3},{"t":678,"diff":17,"dea":12,"hist":4},{"t":682,"diff":7,"dea":12,"hist":-9},{"t":687,"diff":6,"dea":6.5,"hist":3},{"t":692,"diff":15,"dea":10.5,"hist":8},{"t":697,"diff":5,"dea":10,"hist":-8},{"t":702,"diff":8,"dea":6.5,"hist":4},{"t":707,"diff":-30,"dea":-11,"hist":-24},{"t":709,"diff":-31,"dea":-30,"hist":-24},{"t":713,"diff":-13,"dea":-22,"hist":14},{"t":720,"diff":-20,"dea":-16,"hist":-6},{"t":725,"diff":-8,"dea":-14,"hist":9},{"t":730,"diff":-9,"dea":-8.5,"hist":0},{"t":735,"diff":2,"dea":-3.5,"hist":9},{"t":742,"diff":7,"dea":4.5,"hist":2},{"t":747,"diff":6,"dea":6.5,"hist":3},{"t":752,"diff":0,"dea":3,"hist":-3},{"t":757,"diff":5,"dea":2.5,"hist":4},{"t":764,"diff":20,"dea":12,"hist":13},{"t":769,"diff":10,"dea":15,"hist":-4},{"t":777,"diff":8,"dea":9,"hist":2},{"t":782,"diff":-1,"dea":3.5,"hist":-3},{"t":787,"diff":5,"dea":2,"hist":5},{"t":791,"diff":14,"dea":9,"hist":10},{"t":797,"diff":-3,"dea":5.5,"hist":-10},{"t":802,"diff":-6,"dea":-4.5,"hist":1},{"t":808,"diff":-12,"dea":-9,"hist":-3},{"t":813,"diff":-6,"dea":-9,"hist":5},{"t":818,"diff":3,"dea":-1.5,"hist":5},{"t":823,"diff":3,"dea":3,"hist":0},{"t":830,"diff":2,"dea":2.5,"hist":-2},{"t":837,"diff":5,"dea":3.5,"hist":1},{"t":843,"diff":8,"dea":6.5,"hist":0},{"t":848,"diff":2,"dea":5,"hist":-4},{"t":853,"diff":2,"dea":2,"hist":0},{"t":858,"diff":0,"dea":1,"hist":-3},{"t":863,"diff":6,"dea":3,"hist":3},{"t":868,"diff":-1,"dea":2.5,"hist":-3},{"t":873,"diff":-2,"dea":-1.5,"hist":-2},{"t":878,"diff":10,"dea":4,"hist":6},
{"t":884,"diff":16,"dea":13,"hist":3},{"t":890,"diff":8,"dea":12,"hist":-5},{"t":895,"diff":-4,"dea":2,"hist":-8},{"t":900,"diff":-3,"dea":-3.5,"hist":-1},{"t":905,"diff":1,"dea":-1,"hist":5},{"t":908,"diff":7,"dea":4,"hist":2},{"t":913,"diff":3,"dea":5,"hist":-3},{"t":918,"diff":-1,"dea":1,"hist":-2},{"t":923,"diff":-2,"dea":-1.5,"hist":-1},{"t":930,"diff":-8,"dea":-5,"hist":-3},{"t":935,"diff":-6,"dea":-7,"hist":1},{"t":939,"diff":4,"dea":-1,"hist":14},{"t":943,"diff":1,"dea":2.5,"hist":-5},{"t":946,"diff":17,"dea":9,"hist":17},{"t":951,"diff":-2,"dea":7.5,"hist":-16},{"t":955,"diff":3,"dea":0.5,"hist":3},{"t":958,"diff":1,"dea":2,"hist":-3},{"t":965,"diff":12,"dea":6.5,"hist":9},{"t":970,"diff":10,"dea":11,"hist":1},{"t":975,"diff":4,"dea":7,"hist":-7},{"t":980,"diff":2,"dea":3,"hist":1},{"t":985,"diff":-11,"dea":-4.5,"hist":-11},{"t":990,"diff":-6,"dea":-8.5,"hist":1},{"t":997,"diff":-13,"dea":-9.5,"hist":-7},{"t":1002,"diff":-5,"dea":-9,"hist":6},{"t":1005,"diff":5,"dea":0,"hist":10},{"t":1010,"diff":7,"dea":6,"hist":5},{"t":1017,"diff":2,"dea":4.5,"hist":-4},{"t":1023,"diff":0,"dea":1,"hist":-1},{"t":1029,"diff":-10,"dea":-5,"hist":-7},{"t":1033,"diff":-7,"dea":-8.5,"hist":1},{"t":1038,"diff":0,"dea":-3.5,"hist":0},{"t":1043,"diff":-5,"dea":-2.5,"hist":-1},{"t":1048,"diff":-19,"dea":-12,"hist":-15},{"t":1053,"diff":-41,"dea":-30,"hist":-13},{"t":1056,"diff":-22,"dea":-31,"hist":17},{"t":1060,"diff":-44,"dea":-33,"hist":-17},{"t":1065,"diff":-20,"dea":-32,"hist":26},{"t":1073,"diff":-53,"dea":-36,"hist":-29},{"t":1077,"diff":-40,"dea":-46,"hist":10},{"t":1080,"diff":-17,"dea":-28,"hist":24},{"t":1085,"diff":-11,"dea":-14,"hist":3},{"t":1090,"diff":-8,"dea":-9.5,"hist":4},{"t":1095,"diff":3,"dea":-2.5,"hist":13},{"t":1102,"diff":26,"dea":14,"hist":8},{"t":1107,"diff":14,"dea":20,"hist":-8},{"t":1112,"diff":0,"dea":7,"hist":-9},{"t":1115,"diff":5,"dea":2.5,"hist":5},{"t":1120,"diff":-2,"dea":1.5,"hist":-3},{"t":1126,"diff":-11,"dea":-6.5,"hist":-6},{"t":1132,"diff":0,"dea":-5.5,"hist":10},{"t":1137,"diff":-9,"dea":-4.5,"hist":-4},{"t":1143,"diff":-3,"dea":-6,"hist":4},{"t":1150,"diff":-6,"dea":-4.5,"hist":-3},{"t":1155,"diff":-12,"dea":-9,"hist":-2},{"t":1160,"diff":-4,"dea":-8,"hist":7},{"t":1167,"diff":1,"dea":-1.5,"hist":4},{"t":1172,"diff":5,"dea":3,"hist":4},{"t":1176,"diff":0,"dea":2.5,"hist":-5},{"t":1184,"diff":12,"dea":6,"hist":10},{"t":1188,"diff":4,"dea":8,"hist":-4},{"t":1193,"diff":4,"dea":4,"hist":0},{"t":1200,"diff":-12,"dea":-4,"hist":-8},{"t":1205,"diff":-3,"dea":-7.5,"hist":5},{"t":1210,"diff":9,"dea":3,"hist":9},{"t":1215,"diff":-2,"dea":3.5,"hist":-8},{"t":1220,"diff":-17,"dea":-9.5,"hist":-6},{"t":1225,"diff":-30,"dea":-23.5,"hist":-12},{"t":1230,"diff":-18,"dea":-24,"hist":8},{"t":1235,"diff":-14,"dea":-16,"hist":2},{"t":1240,"diff":-8,"dea":-11,"hist":2},{"t":1245,"diff":-13,"dea":-10.5,"hist":-1},{"t":1250,"diff":-1,"dea":-7,"hist":9},{"t":1255,"diff":3,"dea":1,"hist":1},{"t":1260,"diff":2,"dea":2.5,"hist":-3},{"t":1265,"diff":7,"dea":4.5,"hist":8},{"t":1268,"diff":13,"dea":10,"hist":1},{"t":1273,"diff":4,"dea":8.5,"hist":-5},{"t":1278,"diff":1,"dea":2.5,"hist":-1},{"t":1283,"diff":4,"dea":2.5,"hist":1},{"t":1288,"diff":4,"dea":4,"hist":1},{"t":1295,"diff":7,"dea":5.5,"hist":1},{"t":1302,"diff":-2,"dea":2.5,"hist":-5},{"t":1307,"diff":-2,"dea":-2,"hist":1},{"t":1312,"diff":4,"dea":1,"hist":6},{"t":1317,"diff":32,"dea":18,"hist":25},{"t":1319,"diff":45,"dea":35,"hist":24},{"t":1323,"diff":22,"dea":33,"hist":-11},{"t":1328,"diff":10,"dea":16,"hist":-13},{"t":1333,"diff":-5,"dea":2.5,"hist":-15},{"t":1339,"diff":-2,"dea":-3,"hist":0},
{"t":1343,"diff":-7,"dea":-4.5,"hist":-4},{"t":1348,"diff":-12,"dea":-9.5,"hist":5},{"t":1353,"diff":-4,"dea":-8,"hist":5},{"t":1358,"diff":2,"dea":-1,"hist":0},{"t":1363,"diff":1,"dea":1.5,"hist":-1},{"t":1367,"diff":-25,"dea":-12,"hist":-20},{"t":1372,"diff":-15,"dea":-20,"hist":10},{"t":1375,"diff":6,"dea":-4,"hist":18},{"t":1379,"diff":-19,"dea":-7,"hist":-20},{"t":1383,"diff":-5,"dea":-12,"hist":10},{"t":1388,"diff":-12,"dea":-8.5,"hist":0},{"t":1393,"diff":-14,"dea":-13,"hist":-2},{"t":1398,"diff":-6,"dea":-10,"hist":10},{"t":1403,"diff":3,"dea":-1.5,"hist":1},{"t":1408,"diff":-4,"dea":-0.5,"hist":-3},{"t":1413,"diff":7,"dea":1.5,"hist":7},{"t":1418,"diff":14,"dea":10.5,"hist":4},{"t":1423,"diff":4,"dea":9,"hist":-3},{"t":1428,"diff":3,"dea":3.5,"hist":-3},{"t":1433,"diff":3,"dea":3,"hist":2},{"t":1438,"diff":7,"dea":5,"hist":2},{"t":1445,"diff":8,"dea":7.5,"hist":-1},{"t":1450,"diff":4,"dea":6,"hist":0},{"t":1457,"diff":1,"dea":2.5,"hist":-3},{"t":1462,"diff":0,"dea":0.5,"hist":2},{"t":1468,"diff":-5,"dea":-2.5,"hist":-6},{"t":1473,"diff":-11,"dea":-8,"hist":-1},{"t":1478,"diff":-6,"dea":-8.5,"hist":2},{"t":1483,"diff":-22,"dea":-14,"hist":-12},{"t":1487,"diff":16,"dea":-3,"hist":16},{"t":1492,"diff":18,"dea":17,"hist":-5},{"t":1497,"diff":13,"dea":15.5,"hist":-2},{"t":1500,"diff":20,"dea":16,"hist":9},{"t":1505,"diff":22,"dea":21,"hist":3},{"t":1512,"diff":8,"dea":15,"hist":-11},{"t":1518,"diff":-2,"dea":3,"hist":-4},{"t":1523,"diff":-12,"dea":-7,"hist":-1},{"t":1530,"diff":-18,"dea":-15,"hist":-7},{"t":1535,"diff":-8,"dea":-13,"hist":5},{"t":1540,"diff":-5,"dea":-6.5,"hist":4},{"t":1547,"diff":-16,"dea":-10.5,"hist":-6},{"t":1552,"diff":-7,"dea":-11.5,"hist":5},{"t":1557,"diff":-5,"dea":-6,"hist":-2},{"t":1562,"diff":-42,"dea":-24,"hist":-22},{"t":1567,"diff":-30,"dea":-36,"hist":0},{"t":1572,"diff":2,"dea":-14,"hist":15},{"t":1577,"diff":1,"dea":1.5,"hist":4},{"t":1582,"diff":-3,"dea":-1,"hist":-3},{"t":1587,"diff":-7,"dea":-5,"hist":0},{"t":1592,"diff":-8,"dea":-7.5,"hist":3},{"t":1597,"diff":3,"dea":-2.5,"hist":10},{"t":1603,"diff":10,"dea":6.5,"hist":4},{"t":1610,"diff":7,"dea":8.5,"hist":-5},{"t":1616,"diff":11,"dea":9,"hist":5},{"t":1623,"diff":1,"dea":6,"hist":-4},{"t":1629,"diff":-12,"dea":-5.5,"hist":-7},{"t":1637,"diff":-2,"dea":-7,"hist":3},{"t":1643,"diff":24,"dea":11,"hist":15},{"t":1648,"diff":38,"dea":31,"hist":14},{"t":1652,"diff":49,"dea":43,"hist":7},{"t":1658,"diff":28,"dea":38,"hist":-11},{"t":1663,"diff":5,"dea":16,"hist":-6},{"t":1668,"diff":-1,"dea":2,"hist":-2},{"t":1677,"diff":-3,"dea":-2,"hist":-1},{"t":1683,"diff":-8,"dea":-5.5,"hist":-4},{"t":1688,"diff":3,"dea":-2.5,"hist":8},{"t":1693,"diff":3,"dea":3,"hist":-2},{"t":1700,"diff":3,"dea":3,"hist":0},{"t":1707,"diff":3,"dea":3,"hist":-1},{"t":1713,"diff":3,"dea":3,"hist":1},{"t":1719,"diff":7,"dea":5,"hist":3},{"t":1725,"diff":-2,"dea":2.5,"hist":-3},{"t":1730,"diff":4,"dea":1,"hist":1},{"t":1736,"diff":-3,"dea":0.5,"hist":-3},{"t":1743,"diff":0,"dea":-1.5,"hist":2},{"t":1750,"diff":1,"dea":0.5,"hist":0},{"t":1757,"diff":-1,"dea":0,"hist":-1},{"t":1762,"diff":-3,"dea":-2,"hist":-2},{"t":1767,"diff":-8,"dea":-5.5,"hist":-4},{"t":1772,"diff":-2,"dea":-5,"hist":4},{"t":1777,"diff":0,"dea":-1,"hist":-1},{"t":1782,"diff":-1,"dea":-0.5,"hist":0}],
"zigzag":[{"t":545,"price":25152},{"t":638,"price":24732},{"t":648,"price":24911},{"t":663,"price":24765},{"t":700,"price":24936},{"t":734,"price":24736},{"t":791,"price":24905},{"t":810,"price":24804},{"t":917,"price":24958},{"t":943,"price":24878},{"t":970,"price":25010},{"t":998,"price":24898},{"t":1017,"price":24970},{"t":1073,"price":24477},{"t":1103,"price":24668},{"t":1157,"price":24510},{"t":1183,"price":24597},{"t":1245,"price":24332},{"t":1318,"price":24635},{"t":1392,"price":24368},{"t":1444,"price":24489},{"t":1484,"price":24341},{"t":1507,"price":24562},{"t":1562,"price":24213},{"t":1573,"price":24319},{"t":1589,"price":24222},{"t":1614,"price":24355},{"t":1628,"price":24252},{"t":1652,"price":24565},{"t":1681,"price":24462},{"t":1718,"price":24564},{"t":1765,"price":24491}],
"boxes":[{"t":638,"t2":700,"low":24733,"high":24940},{"t":700,"t2":808,"low":24730,"high":24941},{"t":809,"t2":970,"low":24800,"high":25013},{"t":1073,"t2":1184,"low":24474,"high":24671},{"t":1184,"t2":1392,"low":24324,"high":24637},{"t":1392,"t2":1507,"low":24337,"high":24563}],
"pivots":[{"t":127,"price":25105,"label":"25090","kind":"high"},{"t":263,"price":24636,"label":"24649","kind":"low"},{"t":545,"price":25165,"label":"25152","kind":"high"},{"t":638,"price":24718,"label":"24732","kind":"low"},{"t":969,"price":25023,"label":"25010","kind":"high"},{"t":1245,"price":24316,"label":"24330","kind":"low"},{"t":1561,"price":24200,"label":"24215","kind":"low"},{"t":1652,"price":24579,"label":"24565","kind":"high"}],
"headerCjk":[{"t":-25,"price":25225,"label":"恒指主连","kind":"gray"},{"t":101,"price":25225,"label":"1分钟∨","kind":"gray"}],
"headerSmall":[{"t":-46,"price":25225,"label":"⊂⊃","kind":"gray"},{"t":23,"price":25225,"label":"(HKEX 7214)","kind":"gray"}],
"notesTop":[{"t":162,"price":25225,"label":"24516","kind":"high"},{"t":215,"price":25225,"label":"15 / 0.06%","kind":"high"},{"t":5,"price":25195,"label":"MA组合(5,10,0,0,0,0)∨","kind":"yellow"},{"t":145,"price":25195,"label":"MA5 24518.80","kind":"white"},{"t":234,"price":25195,"label":"MA10 24518.10","kind":"yellow"},{"t":6,"price":24204,"label":"主指02","kind":"gray"},{"t":1,"price":24206,"label":"5天","kind":"yellow"},{"t":1805,"price":24204,"label":"48秒","kind":"yellow"}],
"notesBottom":[{"t":5,"val":53.2,"label":"MACD(12,26,9)∨","kind":"yellow"},{"t":110,"val":53.2,"label":"DIFF -0.81","kind":"white"},{"t":175,"val":53.2,"label":"DEA -0.95","kind":"yellow"},{"t":243,"val":53.2,"label":"0.27","kind":"white"}],
"dates":[{"t":372,"val":-58.5,"label":"2022/02/10"},{"t":798,"val":-58.5,"label":"2022/02/11"},{"t":1224,"val":-58.5,"label":"2022/02/14"},{"t":1650,"val":-58.5,"label":"2022/02/15"}],
"frameTop":[{"t":0,"t2":1833,"low":24189,"high":25210}],
"frameBottom":[{"t":0,"t2":1833,"low":-54.9,"high":56.8}],
"refsTop":[{"t":0,"t2":1833,"price":25000},{"t":0,"t2":1833,"price":24500}],
"refsBottom":[{"t":0,"t2":1833,"val":50},{"t":0,"t2":1833,"val":0},{"t":0,"t2":1833,"val":-50}],
"headerLine":[{"t":-50,"t2":1837,"price":25210}],
"lastPrice":[{"t":1814,"t2":1833,"price":24516}],
"tickTop":[{"t":1650,"low":24189,"high":24205}],
"tickBottom":[{"t":1650,"low":-54.9,"high":-51.2}]
},
"resolve":{"scale":{"y":"independent"},"axis":{"y":"independent"}},
"layer":[
{"layer":[
{"data":{"name":"refsTop"},"mark":{"type":"rule","stroke":"#8c0000","strokeDash":[4,4],"strokeWidth":1},"encoding":{"x":{"field":"t","type":"quantitative","scale":{"domain":[-50,1837],"nice":false,"zero":false,"padding":0},"axis":null},"x2":{"field":"t2"},"y":{"field":"price","type":"quantitative","title":null,"scale":{"domain":[24189,25210],"range":[604,17],"nice":false,"zero":false},"axis":{"orient":"left","offset":-50,"values":[24500,25000],"format":"d","grid":false,"domain":false,"ticks":false,"labelPadding":4,"labelColor":"#808080","labelFontSize":12,"labelFont":"Liberation Sans","labelFontWeight":"bold"}}}},
{"data":{"name":"price"},"mark":{"type":"rule","strokeWidth":2},"encoding":{"x":{"field":"t","type":"quantitative","axis":null},"y":{"field":"low","type":"quantitative"},"y2":{"field":"high"},"color":{"condition":{"test":"datum.ma5>=datum.ma10","value":"#ff3c3c"},"value":"#00ffff"}}},
{"data":{"name":"price"},"mark":{"type":"line","stroke":"#f0f0f0","strokeWidth":1.2},"encoding":{"x":{"field":"t","type":"quantitative","axis":null},"y":{"field":"ma5","type":"quantitative"}}},
{"data":{"name":"price"},"mark":{"type":"line","stroke":"#ffff00","strokeWidth":1.2},"encoding":{"x":{"field":"t","type":"quantitative","axis":null},"y":{"field":"ma10","type":"quantitative"}}},
{"data":{"name":"frameTop"},"mark":{"type":"rect","fill":null,"stroke":"#c80000","strokeWidth":1.5},"encoding":{"x":{"field":"t","type":"quantitative","axis":null},"x2":{"field":"t2"},"y":{"field":"low","type":"quantitative"},"y2":{"field":"high"}}},
{"data":{"name":"headerLine"},"mark":{"type":"rule","stroke":"#c80000","strokeWidth":1.5},"encoding":{"x":{"field":"t","type":"quantitative","axis":null},"x2":{"field":"t2"},"y":{"field":"price","type":"quantitative"}}},
{"data":{"name":"lastPrice"},"mark":{"type":"rule","stroke":"#d8d800","strokeWidth":1},"encoding":{"x":{"field":"t","type":"quantitative","axis":null},"x2":{"field":"t2"},"y":{"field":"price","type":"quantitative"}}},
{"data":{"name":"tickTop"},"mark":{"type":"rule","stroke":"#808080","strokeWidth":1},"encoding":{"x":{"field":"t","type":"quantitative","axis":null},"y":{"field":"low","type":"quantitative"},"y2":{"field":"high"}}},
{"data":{"name":"boxes"},"mark":{"type":"rect","fill":null,"stroke":"#ff0000","strokeWidth":3},"encoding":{"x":{"field":"t","type":"quantitative","axis":null},"x2":{"field":"t2"},"y":{"field":"low","type":"quantitative"},"y2":{"field":"high"}}},
{"data":{"name":"zigzag"},"mark":{"type":"line","stroke":"#ff0000","strokeWidth":3,"strokeJoin":"miter"},"encoding":{"x":{"field":"t","type":"quantitative","axis":null},"y":{"field":"price","type":"quantitative"}}},
{"data":{"name":"pivots"},"mark":{"type":"text","align":"center","baseline":"middle","fontSize":12,"font":"Liberation Sans"},"encoding":{"x":{"field":"t","type":"quantitative","axis":null},"y":{"field":"price","type":"quantitative"},"text":{"field":"label"},"color":{"field":"kind","type":"nominal","legend":null,"scale":{"domain":["high","low","yellow","white","gray"],"range":["#ff3c3c","#00e0e0","#d8d800","#e0e8f0","#a0a0a0"]}}}},
{"data":{"name":"headerCjk"},"mark":{"type":"text","align":"left","baseline":"middle","fontSize":12,"font":"Liberation Sans, Noto Sans CJK SC"},"encoding":{"x":{"field":"t","type":"quantitative","axis":null},"y":{"field":"price","type":"quantitative"},"text":{"field":"label"},"color":{"field":"kind","type":"nominal","legend":null,"scale":{"domain":["high","low","yellow","white","gray"],"range":["#ff3c3c","#00e0e0","#d8d800","#e0e8f0","#a0a0a0"]}}}},
{"data":{"name":"headerSmall"},"mark":{"type":"text","align":"left","baseline":"middle","fontSize":10.5,"font":"Liberation Sans, DejaVu Sans"},"encoding":{"x":{"field":"t","type":"quantitative","axis":null},"y":{"field":"price","type":"quantitative"},"text":{"field":"label"},"color":{"field":"kind","type":"nominal","legend":null,"scale":{"domain":["high","low","yellow","white","gray"],"range":["#ff3c3c","#00e0e0","#d8d800","#e0e8f0","#a0a0a0"]}}}},
{"data":{"name":"notesTop"},"mark":{"type":"text","align":"left","baseline":"middle","fontSize":13,"font":"Liberation Sans, Noto Sans CJK SC"},"encoding":{"x":{"field":"t","type":"quantitative","axis":null},"y":{"field":"price","type":"quantitative"},"text":{"field":"label"},"color":{"field":"kind","type":"nominal","legend":null,"scale":{"domain":["high","low","yellow","white","gray"],"range":["#ff3c3c","#00e0e0","#d8d800","#e0e8f0","#a0a0a0"]}}}}
]},
{"layer":[
{"data":{"name":"refsBottom"},"mark":{"type":"rule","stroke":"#8c0000","strokeDash":[4,4],"strokeWidth":1},"encoding":{"x":{"field":"t","type":"quantitative","scale":{"domain":[-50,1837],"nice":false,"zero":false,"padding":0},"axis":null},"x2":{"field":"t2"},"y":{"field":"val","type":"quantitative","title":null,"scale":{"domain":[-54.9,56.8],"range":[898,604],"nice":false,"zero":false},"axis":{"orient":"left","offset":-50,"values":[-50,0,50],"grid":false,"domain":false,"ticks":false,"labelPadding":4,"labelColor":"#808080","labelFontSize":12,"labelFont":"Liberation Sans","labelFontWeight":"bold"}}}},
{"data":{"name":"macd"},"mark":{"type":"bar","size":5.5},"encoding":{"x":{"field":"t","type":"quantitative","axis":null},"y":{"field":"hist","type":"quantitative","stack":null},"y2":{"datum":0},"color":{"condition":{"test":"datum.hist>=0","value":"#ff3c3c"},"value":"#00f5f5"}}},
{"data":{"name":"macd"},"mark":{"type":"line","stroke":"#f0f0f0","strokeWidth":1.2},"encoding":{"x":{"field":"t","type":"quantitative","axis":null},"y":{"field":"diff","type":"quantitative"}}},
{"data":{"name":"macd"},"mark":{"type":"line","stroke":"#e8e800","strokeWidth":1.2},"encoding":{"x":{"field":"t","type":"quantitative","axis":null},"y":{"field":"dea","type":"quantitative"}}},
{"data":{"name":"frameBottom"},"mark":{"type":"rect","fill":null,"stroke":"#c80000","strokeWidth":1.5},"encoding":{"x":{"field":"t","type":"quantitative","axis":null},"x2":{"field":"t2"},"y":{"field":"low","type":"quantitative"},"y2":{"field":"high"}}},
{"data":{"name":"tickBottom"},"mark":{"type":"rule","stroke":"#808080","strokeWidth":1},"encoding":{"x":{"field":"t","type":"quantitative","axis":null},"y":{"field":"low","type":"quantitative"},"y2":{"field":"high"}}},
{"data":{"name":"dates"},"mark":{"type":"text","align":"center","baseline":"middle","fontSize":12,"font":"Liberation Sans","color":"#808080"},"encoding":{"x":{"field":"t","type":"quantitative","axis":null},"y":{"field":"val","type":"quantitative"},"text":{"field":"label"}}},
{"data":{"name":"notesBottom"},"mark":{"type":"text","align":"left","baseline":"middle","fontSize":13,"font":"Liberation Sans, Noto Sans CJK SC"},"encoding":{"x":{"field":"t","type":"quantitative","axis":null},"y":{"field":"val","type":"quantitative"},"text":{"field":"label"},"color":{"field":"kind","type":"nominal","legend":null,"scale":{"domain":["yellow","white"],"range":["#d8d800","#e0e8f0"]}}}}
]}
]}
